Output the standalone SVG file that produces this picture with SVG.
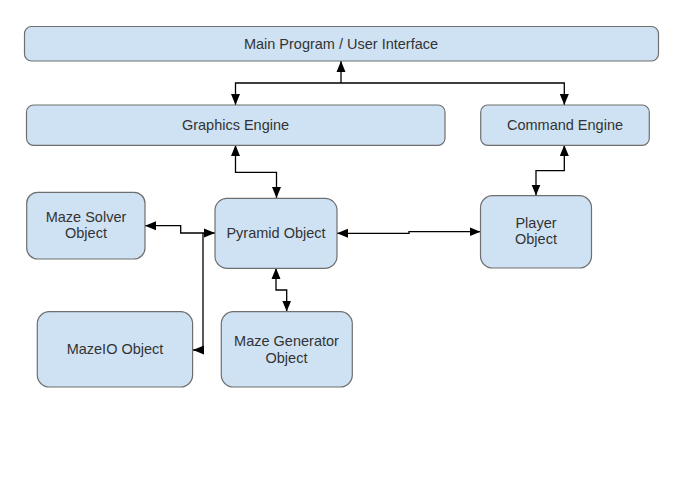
<svg xmlns="http://www.w3.org/2000/svg" width="681" height="482" viewBox="0 0 681 482">
<style>
.box{fill:#cfe2f3;stroke:#6f6f6f;stroke-width:1.2}
.lbl{font-family:"Liberation Sans",Arial,sans-serif;font-size:14.5px;fill:#333333;text-anchor:middle}
.con{fill:none;stroke:#000;stroke-width:1.3}
.bi{marker-start:url(#ah);marker-end:url(#ah)}
.uni{marker-end:url(#ah)}
</style>
<defs>
<marker id="ah" markerUnits="userSpaceOnUse" markerWidth="12" markerHeight="10" viewBox="0 0 12 10" refX="11" refY="5" orient="auto-start-reverse">
<path d="M0,0.5 L11,5 L0,9.5 Z" fill="#000"/>
</marker>
</defs>
<rect width="681" height="482" fill="#fff"/>
<g id="connectors">
<path class="con bi" d="M235.5,105 V83 H564.3 V105"/>
<path class="con uni" d="M341,83 V61"/>
<path class="con bi" d="M235.5,145 V172.3 H276.5 V198"/>
<path class="con bi" d="M564.3,145 V170.7 H536 V195.5"/>
<path class="con bi" d="M337,233.3 H409 V231.7 H480.5"/>
<path class="con bi" d="M145,225.7 H180.7 V233 H215"/>
<path class="con uni" d="M203,233 V350 H193"/>
<path class="con bi" d="M276,268 V290 H286.7 V311.5"/>
</g>
<g id="main">
<rect class="box" x="24.5" y="26.5" width="634" height="34.5" rx="7"/>
<text class="lbl" x="341" y="48.5">Main Program / User Interface</text>
</g>
<g id="graphics">
<rect class="box" x="26.5" y="105" width="418.5" height="40.3" rx="7"/>
<text class="lbl" x="235.5" y="130">Graphics Engine</text>
</g>
<g id="command">
<rect class="box" x="480.7" y="105" width="168.6" height="40.3" rx="7"/>
<text class="lbl" x="565" y="130">Command Engine</text>
</g>
<g id="solver">
<rect class="box" x="26.7" y="192.3" width="118.3" height="66.7" rx="11"/>
<text class="lbl" x="86" y="221.7">Maze Solver</text>
<text class="lbl" x="86" y="238.3">Object</text>
</g>
<g id="pyramid">
<rect class="box" x="215" y="198.3" width="122" height="70" rx="12"/>
<text class="lbl" x="276" y="238.3">Pyramid Object</text>
</g>
<g id="player">
<rect class="box" x="480.5" y="195.7" width="111" height="72.3" rx="12"/>
<text class="lbl" x="536" y="228">Player</text>
<text class="lbl" x="536" y="244">Object</text>
</g>
<g id="mazeio">
<rect class="box" x="37.3" y="311.7" width="155.3" height="75.3" rx="12"/>
<text class="lbl" x="115" y="354">MazeIO Object</text>
</g>
<g id="generator">
<rect class="box" x="221.3" y="311.7" width="131" height="75.3" rx="12"/>
<text class="lbl" x="286.5" y="345.7">Maze Generator</text>
<text class="lbl" x="286.5" y="362.7">Object</text>
</g>
</svg>
